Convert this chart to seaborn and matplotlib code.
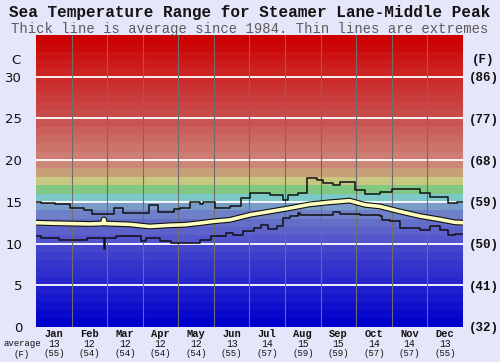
import numpy as np
import matplotlib
matplotlib.use("Agg")
import matplotlib.pyplot as plt
import matplotlib.patheffects as pe
import seaborn as sns

# data (day of year, deg C)
months = ['Jan', 'Feb', 'Mar', 'Apr', 'May', 'Jun',
          'Jul', 'Aug', 'Sep', 'Oct', 'Nov', 'Dec']
avg_c = [13, 12, 12, 12, 12, 13, 14, 15, 15, 14, 14, 13]
avg_f = [55, 54, 54, 54, 54, 55, 57, 59, 59, 57, 57, 55]

max_days = [0, 4, 16, 29, 41, 48, 67, 74, 97, 104, 118, 123, 132, 140, 143, 153,
            166, 175, 183, 200, 211, 215, 224, 232, 240, 245, 254, 260, 273, 281,
            294, 304, 328, 337, 352, 360, 365]
max_temp = [15.0, 14.85, 14.7, 14.3, 14.0, 13.6, 14.3, 13.7, 14.6, 13.8, 14.2, 14.25,
            14.95, 14.8, 14.95, 14.3, 14.5, 15.5, 16.1, 15.8, 15.2, 15.8, 16.1, 17.9,
            17.6, 17.3, 17.0, 17.4, 16.4, 16.0, 16.2, 16.6, 16.1, 15.6, 14.85, 15.0, 15.0]

min_days = [0, 4, 20, 44, 56, 58, 59, 68, 90, 94, 106, 115, 132, 140, 150, 162,
            168, 177, 186, 192, 198, 206, 211, 217, 224, 226, 254, 260, 277, 294,
            296, 303, 311, 328, 337, 345, 352, 358, 365]
min_temp = [10.85, 10.7, 10.45, 10.7, 10.65, 9.3, 10.65, 10.85, 10.25, 10.65, 10.3,
            10.1, 10.05, 10.45, 10.85, 11.25, 11.05, 11.45, 11.85, 12.25, 11.75, 12.05,
            13.05, 13.25, 13.65, 13.45, 13.75, 13.6, 13.45, 13.25, 12.85, 12.65, 11.85,
            11.65, 12.1, 11.65, 11.05, 11.1, 11.1]

avg_days = [0, 12, 29, 46, 57, 58, 59, 80, 97, 115, 127, 140, 151, 166, 183, 200,
            217, 234, 251, 260, 268, 281, 294, 311, 328, 345, 358, 365]
avg_temp = [12.5, 12.45, 12.4, 12.35, 12.4, 12.9, 12.4, 12.3, 12.05, 12.2, 12.25,
            12.45, 12.65, 12.85, 13.45, 13.85, 14.25, 14.7, 14.95, 15.05, 15.15, 14.65,
            14.45, 13.85, 13.3, 12.9, 12.55, 12.5]

# colour bands, one per degree
anchor_t = [0.5, 9.5, 10.5, 12.5, 13.5, 14.5, 15.5, 16.5, 17.5, 18.5, 19.5, 20.5, 25.5, 30.5, 34.5]
anchor_rgb = [(0, 0, 205), (70, 70, 205), (85, 85, 205), (100, 110, 200), (110, 128, 200),
              (120, 155, 200), (125, 200, 200), (130, 200, 130), (200, 200, 130),
              (200, 160, 120), (205, 135, 120), (205, 125, 115), (200, 75, 75),
              (205, 35, 35), (204, 0, 0)]

bg = '#e6e6fa'
fig = plt.figure(figsize=(5, 3.62), dpi=100, facecolor=bg)
ax = fig.add_axes([0.072, 0.0967, 0.854, 0.8066])

rgb = np.array(anchor_rgb) / 255.0
for t in range(35):
    c = [np.interp(t + 0.5, anchor_t, rgb[:, k]) for k in range(3)]
    ax.axhspan(t, t + 1, color=c, lw=0, zorder=0)

for t in range(5, 35, 5):
    ax.axhline(t, color='white', lw=1.3, zorder=1)
for i in range(1, 12):
    ax.axvline(i * 365 / 12, color='#6e6e6e', lw=0.8, zorder=1)

sns.lineplot(x=max_days, y=max_temp, ax=ax, drawstyle='steps-post', color='#111111',
             lw=1.1, estimator=None, zorder=3)
sns.lineplot(x=min_days, y=min_temp, ax=ax, drawstyle='steps-post', color='#111111',
             lw=1.1, estimator=None, zorder=3)
sns.lineplot(x=avg_days, y=avg_temp, ax=ax, color='#ffffc0', lw=2.6, estimator=None, zorder=4,
             path_effects=[pe.withStroke(linewidth=4.2, foreground='#111111')])

ax.set_xlim(0, 365)
ax.set_ylim(0, 35)
for s in ax.spines.values():
    s.set_visible(False)
ax.set_xticks([])
ax.set_xlabel('')
ax.set_yticks(range(0, 35, 5))
ax.set_yticklabels([str(v) for v in range(0, 35, 5)], fontsize=9.5, family='DejaVu Sans',
                   color='#111111')
ax.tick_params(axis='y', length=0, pad=10)

ax2 = ax.twinx()
ax2.set_ylim(0, 35)
ax2.set_yticks(range(0, 35, 5))
ax2.set_yticklabels(['(%d)' % round(v * 9 / 5 + 32) for v in range(0, 35, 5)],
                    fontsize=9, family='Liberation Mono', weight='bold', color='#111111')
ax2.tick_params(axis='y', length=0, pad=4)
for s in ax2.spines.values():
    s.set_visible(False)

ax.text(-0.048, 32, 'C', transform=ax.get_yaxis_transform(), ha='center', va='center',
        fontsize=9.5, color='#111111')
ax2.text(1.048, 32, '(F)', transform=ax2.get_yaxis_transform(), ha='center', va='center',
         fontsize=9, family='Liberation Mono', weight='bold', color='#111111')

for i, m in enumerate(months):
    xc = (i + 0.5) * 365 / 12
    tr = ax.get_xaxis_transform()
    ax.text(xc, -0.024, m, transform=tr, ha='center', va='center', fontsize=7.5,
            family='Liberation Mono', weight='bold', color='#111111')
    ax.text(xc, -0.057, str(avg_c[i]), transform=tr, ha='center', va='center', fontsize=7,
            family='Liberation Mono', color='#111111')
    ax.text(xc, -0.090, '(%d)' % avg_f[i], transform=tr, ha='center', va='center', fontsize=6.5,
            family='Liberation Mono', color='#111111')

fig.text(0.044, 0.050, 'average', ha='center', va='center', fontsize=6.5,
         family='Liberation Mono', color='#111111')
fig.text(0.044, 0.022, '(F)', ha='center', va='center', fontsize=6.5,
         family='Liberation Mono', color='#111111')

fig.text(0.5, 0.965, 'Sea Temperature Range for Steamer Lane-Middle Peak', ha='center',
         va='center', fontsize=11.5, family='Liberation Mono', weight='bold', color='#141414')
fig.text(0.5, 0.921, 'Thick line is average since 1984. Thin lines are extremes', ha='center',
         va='center', fontsize=10, family='Liberation Mono', color='#5a5a5a')

fig.savefig('out.png', dpi=100, facecolor=bg)
